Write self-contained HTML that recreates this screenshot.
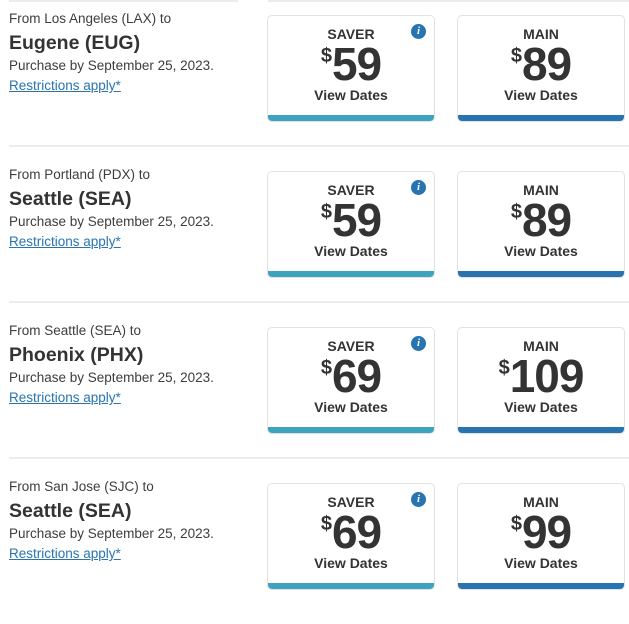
<!DOCTYPE html>
<html><head><style>
body{margin:0;width:629px;height:603px;background:#fff;font-family:"Liberation Sans",sans-serif;color:#333;position:relative;overflow:hidden}
.hl{position:absolute;height:2px;background:#ececec}
.row{position:absolute;left:0;width:629px;height:156px}
.from{position:absolute;left:9px;top:11px;font-size:13.5px;color:#3d3d3d}
.to{position:absolute;left:9px;top:32px;font-size:19.5px;font-weight:bold;color:#333}
.pur{position:absolute;left:9px;top:58px;font-size:13.5px;color:#3d3d3d}
.lnk{position:absolute;left:9px;top:78px;font-size:13.5px;color:#2774b0;text-decoration:underline}
.card{position:absolute;top:15px;width:168px;height:107px;border:1px solid #e2e2e2;border-radius:5px;overflow:hidden;box-sizing:border-box;text-align:center}
.card .bar{position:absolute;left:0;right:0;bottom:0;height:6px}
.lab{position:absolute;left:0;right:0;top:10px;font-size:14px;font-weight:bold;color:#333}
.pr{position:absolute;left:0;right:0;top:24px;font-size:46px;font-weight:bold;color:#333;line-height:48px;letter-spacing:-1px}
.pr span{font-size:20px;line-height:20px;display:inline-block;vertical-align:top;margin-top:6px;margin-right:1px}
.vd{position:absolute;left:0;right:0;top:71px;font-size:14px;font-weight:bold;color:#333}
.i{position:absolute;left:143px;top:8px;width:15px;height:15px;border-radius:50%;background:#2774b0;color:#fff;font:italic bold 11px "Liberation Serif",serif;line-height:15px;text-align:center}
</style></head><body>
<div class="hl" style="left:9px;width:229px;top:0"></div>
<div class="hl" style="left:268px;width:361px;top:0"></div>

<div class="row" style="top:0">
<div class="from">From Los Angeles (LAX) to</div><div class="to">Eugene (EUG)</div>
<div class="pur">Purchase by September 25, 2023.</div><div class="lnk">Restrictions apply*</div>
<div class="card" style="left:267px"><div class="lab">SAVER</div><div class="i">i</div><div class="pr"><span>$</span>59</div><div class="vd">View Dates</div><div class="bar" style="background:#3ea3bf"></div></div>
<div class="card" style="left:457px"><div class="lab">MAIN</div><div class="pr"><span>$</span>89</div><div class="vd">View Dates</div><div class="bar" style="background:#2774b0"></div></div>
</div>
<div class="hl" style="left:9px;width:620px;top:145px"></div>

<div class="row" style="top:156px">
<div class="from">From Portland (PDX) to</div><div class="to">Seattle (SEA)</div>
<div class="pur">Purchase by September 25, 2023.</div><div class="lnk">Restrictions apply*</div>
<div class="card" style="left:267px"><div class="lab">SAVER</div><div class="i">i</div><div class="pr"><span>$</span>59</div><div class="vd">View Dates</div><div class="bar" style="background:#3ea3bf"></div></div>
<div class="card" style="left:457px"><div class="lab">MAIN</div><div class="pr"><span>$</span>89</div><div class="vd">View Dates</div><div class="bar" style="background:#2774b0"></div></div>
</div>
<div class="hl" style="left:9px;width:620px;top:301px"></div>

<div class="row" style="top:312px">
<div class="from">From Seattle (SEA) to</div><div class="to">Phoenix (PHX)</div>
<div class="pur">Purchase by September 25, 2023.</div><div class="lnk">Restrictions apply*</div>
<div class="card" style="left:267px"><div class="lab">SAVER</div><div class="i">i</div><div class="pr"><span>$</span>69</div><div class="vd">View Dates</div><div class="bar" style="background:#3ea3bf"></div></div>
<div class="card" style="left:457px"><div class="lab">MAIN</div><div class="pr"><span>$</span>109</div><div class="vd">View Dates</div><div class="bar" style="background:#2774b0"></div></div>
</div>
<div class="hl" style="left:9px;width:620px;top:457px"></div>

<div class="row" style="top:468px">
<div class="from">From San Jose (SJC) to</div><div class="to">Seattle (SEA)</div>
<div class="pur">Purchase by September 25, 2023.</div><div class="lnk">Restrictions apply*</div>
<div class="card" style="left:267px"><div class="lab">SAVER</div><div class="i">i</div><div class="pr"><span>$</span>69</div><div class="vd">View Dates</div><div class="bar" style="background:#3ea3bf"></div></div>
<div class="card" style="left:457px"><div class="lab">MAIN</div><div class="pr"><span>$</span>99</div><div class="vd">View Dates</div><div class="bar" style="background:#2774b0"></div></div>
</div>
</body></html>
